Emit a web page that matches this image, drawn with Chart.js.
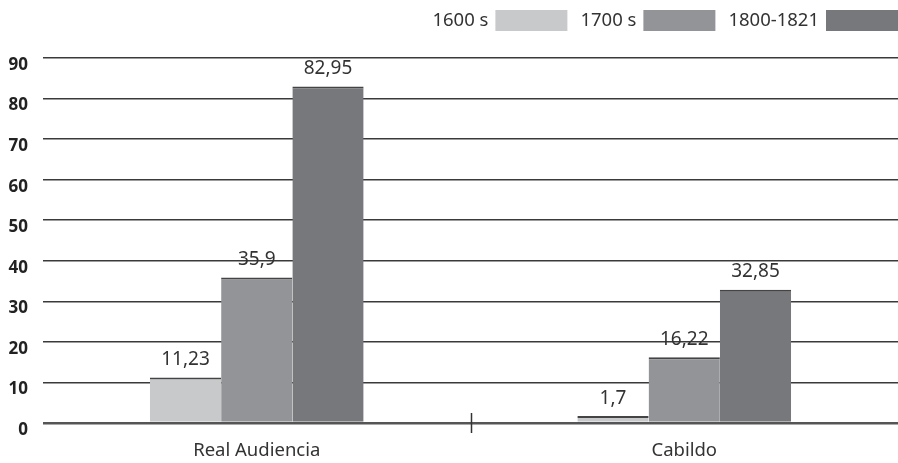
<!DOCTYPE html>
<html>
<head>
<meta charset="utf-8">
<script src="https://cdn.jsdelivr.net/npm/chart.js@4/dist/chart.umd.min.js"></script>
<style>
  html, body { margin: 0; padding: 0; background: #ffffff; }
  #wrap { width: 898px; height: 463px; position: relative; }
</style>
</head>
<body>
<div id="wrap"><canvas id="c"></canvas></div>
<script>
const categories = ["Real Audiencia", "Cabildo"];
const seriesNames = ["1600 s", "1700 s", "1800-1821"];
const values1600 = [11.23, 1.7];
const values1700 = [35.9, 16.22];
const values1800 = [82.95, 32.85];
const yTicks = [0, 10, 20, 30, 40, 50, 60, 70, 80, 90];

const colors = ["#c8c9cb", "#939498", "#77787c"];
const seriesValues = [values1600, values1700, values1800];

const textFont = "'Noto Sans', 'Open Sans', sans-serif";

const labelsPlugin = {
  id: 'valueLabels',
  afterDatasetsDraw(chart) {
    const ctx = chart.ctx;
    ctx.save();
    ctx.font = "19px " + textFont;
    ctx.fillStyle = "#333333";
    ctx.textAlign = "center";
    ctx.textBaseline = "middle";
    chart.data.datasets.forEach((ds, di) => {
      const meta = chart.getDatasetMeta(di);
      meta.data.forEach((el, i) => {
        const v = ds.data[i];
        ctx.fillText(String(v).replace('.', ','), el.x, el.y - 18);
      });
    });
    ctx.restore();
  }
};

const dividerPlugin = {
  id: 'divider',
  afterDraw(chart) {
    const xs = chart.scales.x;
    const ys = chart.scales.y;
    const ctx = chart.ctx;
    ctx.save();
    ctx.strokeStyle = "#333333";
    ctx.lineWidth = 1.5;
    for (let i = 0; i < categories.length - 1; i++) {
      const x = Math.round((xs.getPixelForValue(i) + xs.getPixelForValue(i + 1)) / 2) + 0.5;
      const y0 = ys.getPixelForValue(0);
      ctx.beginPath();
      ctx.moveTo(x, y0 - 10);
      ctx.lineTo(x, y0 + 10);
      ctx.stroke();
    }
    ctx.restore();
  }
};

const legendPlugin = {
  id: 'customLegend',
  afterDraw(chart) {
    const ctx = chart.ctx;
    ctx.save();
    ctx.font = "18.5px " + textFont;
    ctx.textBaseline = "middle";
    ctx.textAlign = "left";
    const boxW = 72, boxH = 21, boxTop = 10, gapTB = 7, gapBT = 13;
    let x = 898;
    const items = chart.data.datasets.map(d => ({ label: d.label, color: d.backgroundColor }));
    for (let i = items.length - 1; i >= 0; i--) {
      const it = items[i];
      ctx.fillStyle = it.color;
      ctx.fillRect(x - boxW, boxTop, boxW, boxH);
      x -= boxW + gapTB;
      const w = ctx.measureText(it.label).width;
      ctx.fillStyle = "#333333";
      ctx.fillText(it.label, x - w, boxTop + boxH / 2);
      x -= w + gapBT;
    }
    ctx.restore();
  }
};

new Chart(document.getElementById('c'), {
  type: 'bar',
  data: {
    labels: categories,
    datasets: seriesNames.map((name, i) => ({
      label: name,
      data: seriesValues[i],
      backgroundColor: colors[i],
      borderColor: "#444444",
      borderWidth: { top: 2, left: 0, right: 0, bottom: 0 },
      borderSkipped: false,
      categoryPercentage: 0.5,
      barPercentage: 1.0
    }))
  },
  options: {
    responsive: true,
    maintainAspectRatio: false,
    animation: false,
    layout: { padding: { top: 58, left: 0, right: 0, bottom: 0 } },
    plugins: {
      legend: { display: false },
      tooltip: { enabled: false },
      title: { display: false }
    },
    scales: {
      x: {
        afterFit(scale) { scale.height = 40; },
        grid: { display: false, drawTicks: false },
        border: { display: false },
        ticks: {
          color: "#333333",
          font: { family: textFont, size: 18.5 },
          padding: 17
        }
      },
      y: {
        min: 0,
        max: 90,
        afterFit(scale) { scale.width = 43; },
        afterBuildTicks(scale) { scale.ticks = yTicks.map(v => ({ value: v })); },
        grid: {
          drawTicks: false,
          color: (c) => c.index === 0 ? "#555555" : "#3a3a3a",
          lineWidth: (c) => c.index === 0 ? 2.5 : 1.5
        },
        border: { display: false },
        ticks: {
          color: "#222222",
          font: { family: "'Open Sans', sans-serif", size: 17, weight: 'bold' },
          padding: 15,
          labelOffset: 7
        }
      }
    }
  },
  plugins: [labelsPlugin, dividerPlugin, legendPlugin]
});
</script>
</body>
</html>
